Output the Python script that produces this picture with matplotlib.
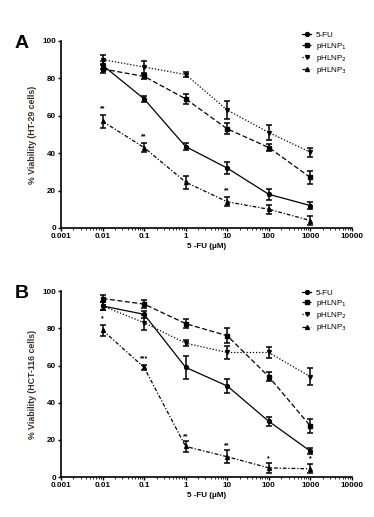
import numpy as np
import matplotlib
matplotlib.use('Agg')
import matplotlib.pyplot as plt
from matplotlib.ticker import LogLocator, FixedLocator

plt.rcParams['font.family'] = ['Liberation Sans', 'DejaVu Sans']

conc = [0.01, 0.1, 1, 10, 100, 1000]
x_ticks = [0.001, 0.01, 0.1, 1, 10, 100, 1000, 10000]
x_tick_labels = ['0.001', '0.01', '0.1', '1', '10', '100', '1000', '10000']
series_names = ['5-FU', 'pHLNP$_1$', 'pHLNP$_2$', 'pHLNP$_3$']

# panel A, HT-29
a_fu = [87, 69, 43.5, 32, 18, 12]
a_fu_err = [2, 1.5, 2, 3, 3, 2]
a_p1 = [85, 81, 69, 53, 43, 27]
a_p1_err = [2, 1.5, 2.5, 3, 2, 3.5]
a_p2 = [90, 86, 82, 63, 51, 40.5]
a_p2_err = [2.5, 3, 1.5, 5, 4, 2.5]
a_p3 = [57, 43, 24.5, 14, 10, 4]
a_p3_err = [3.5, 2.5, 3.5, 2.5, 2.5, 2.5]
a_stars_x = [0.01, 0.1, 10, 1000]
a_stars_y = [62, 47, 18, 8]
a_stars = ['**', '**', '**', '*']

# panel B, HCT-116
b_fu = [92, 87.5, 59, 49, 30, 14]
b_fu_err = [2, 2, 6, 4, 2.5, 1.5]
b_p1 = [96, 93, 82.5, 76, 54, 27.5]
b_p1_err = [2, 2, 2.5, 4, 2.5, 3.5]
b_p2 = [92, 83, 72, 67, 67, 54]
b_p2_err = [2, 4, 1.5, 3.5, 3, 4.5]
b_p3 = [79, 59, 16.5, 11, 5, 4.5]
b_p3_err = [3, 1.5, 3, 3.5, 2.5, 2.5]
b_stars_x = [0.01, 0.1, 1, 10, 100, 1000]
b_stars_y = [83, 62, 20, 15, 8, 8]
b_stars = ['*', '***', '**', '**', '*', '*']

styles = [('o', '-'), ('s', (0, (4, 2))), ('v', (0, (1, 1.5))), ('^', (0, (3, 1.5, 1, 1.5)))]


def draw_panel(ax, data, errs, stars_x, stars_y, stars, ylab, letter, leg_y):
    handles = []
    for vals, err, (mk, ls), name in zip(data, errs, styles, series_names):
        ax.errorbar(conc, vals, yerr=err, color='k', lw=0.9, ls=ls,
                    marker=mk, ms=2.8, elinewidth=1.1, capsize=2, capthick=1.1)
        h, = ax.plot([], [], color='k', lw=0.9, ls=ls, marker=mk, ms=2.8, label=name)
        handles.append(h)
    for sx, sy, s in zip(stars_x, stars_y, stars):
        ax.text(sx, sy, s, ha='center', va='bottom', fontsize=5, fontweight='bold')
    ax.set_xscale('log')
    ax.set_xlim(0.001, 10000)
    ax.set_ylim(0, 100)
    ax.xaxis.set_major_locator(FixedLocator(x_ticks))
    ax.set_xticklabels(x_tick_labels)
    ax.xaxis.set_minor_locator(LogLocator(base=10, subs=np.arange(2, 10), numticks=20))
    ax.set_yticks([0, 20, 40, 60, 80, 100])
    ax.tick_params(axis='both', which='major', labelsize=5.8, length=2.5, width=1, pad=1)
    ax.tick_params(axis='x', which='minor', length=1.5, width=0.6)
    for lbl in ax.get_xticklabels() + ax.get_yticklabels():
        lbl.set_fontweight('bold')
    for sp in ['top', 'right']:
        ax.spines[sp].set_visible(False)
    for sp in ['left', 'bottom']:
        ax.spines[sp].set_linewidth(1.2)
    ax.set_xlabel('5 -FU (\u03bcM)', fontsize=5.8, fontweight='bold', labelpad=2)
    ax.set_ylabel(ylab, fontsize=6.3, fontweight='bold', color='#3d2c1c', labelpad=4)
    fig.text(0.04, ax.get_position().y1 - 0.005, letter, fontsize=14, fontweight='bold',
             ha='left', va='center')
    fig.legend(handles=handles, loc='upper left', bbox_to_anchor=(0.8, leg_y),
               frameon=False, fontsize=5.8, handlelength=1.1, handletextpad=0.6,
               labelspacing=0.15, borderaxespad=0)


fig = plt.figure(figsize=(3.74, 5.17), dpi=100)
ax_a = fig.add_axes([0.163, 0.559, 0.778, 0.362])
ax_b = fig.add_axes([0.163, 0.077, 0.778, 0.36])

draw_panel(ax_a, [a_fu, a_p1, a_p2, a_p3], [a_fu_err, a_p1_err, a_p2_err, a_p3_err],
           a_stars_x, a_stars_y, a_stars, '% Viability (HT-29 cells)', 'A', 0.945)
draw_panel(ax_b, [b_fu, b_p1, b_p2, b_p3], [b_fu_err, b_p1_err, b_p2_err, b_p3_err],
           b_stars_x, b_stars_y, b_stars, '% Viability (HCT-116 cells)', 'B', 0.447)

fig.savefig('out.png', dpi=100)
